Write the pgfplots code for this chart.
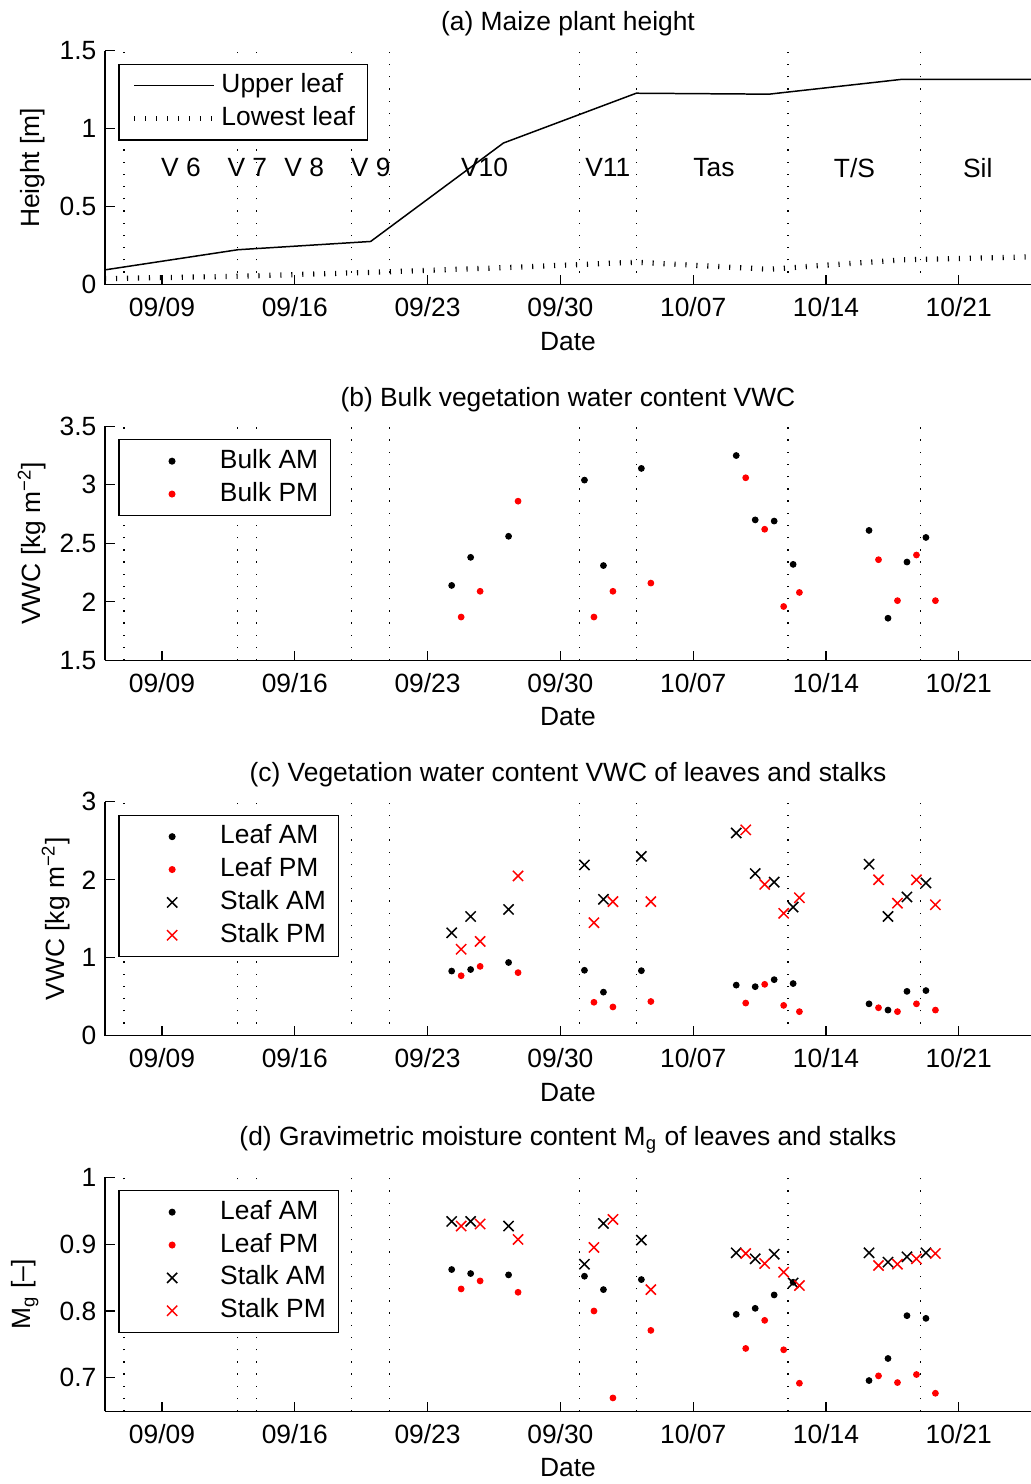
\documentclass[border=0pt]{standalone}
\usepackage{fontspec}
\setmainfont{Liberation Sans}
\usepackage{pgfplots}
\usepackage{pgfplotstable}
\pgfplotsset{compat=1.18}

% day of year counted from 1 Sep (09/09 = 9, 10/21 = 51)
\pgfplotstableread{
day   upper  lower
6     0.096  0.040
13    0.225  0.055
20    0.278  0.080
27    0.909  0.110
34    1.228  0.145
41    1.222  0.100
48    1.317  0.160
55    1.317  0.180
}\heighttab

\pgfplotstableread{
dam    dpm    am    pm
24.27  24.77  2.14  1.87
25.27  25.77  2.38  2.09
27.27  27.77  2.56  2.86
31.27  31.77  3.04  1.87
32.27  32.77  2.31  2.09
34.27  34.77  3.14  2.16
39.27  39.77  3.25  3.06
40.27  40.77  2.70  2.62
41.27  41.77  2.69  1.96
42.27  42.60  2.32  2.08
46.27  46.77  2.61  2.36
47.27  47.77  1.86  2.01
48.27  48.77  2.34  2.40
49.27  49.77  2.55  2.01
}\bulktab

\pgfplotstableread{
dam    dpm    leafam leafpm stalkam stalkpm
24.27  24.77  0.83   0.77   1.32    1.11
25.27  25.77  0.85   0.89   1.53    1.21
27.27  27.77  0.94   0.81   1.62    2.05
31.27  31.77  0.84   0.43   2.19    1.45
32.27  32.77  0.56   0.37   1.75    1.72
34.27  34.77  0.835  0.44   2.30    1.72
39.27  39.77  0.65   0.42   2.60    2.64
40.27  40.77  0.63   0.66   2.08    1.94
41.27  41.77  0.72   0.39   1.97    1.57
42.27  42.60  0.67   0.31   1.65    1.77
46.27  46.77  0.41   0.36   2.20    2.00
47.27  47.77  0.33   0.31   1.53    1.70
48.27  48.77  0.57   0.41   1.78    2.00
49.27  49.77  0.58   0.33   1.96    1.68
}\vwctab

\pgfplotstableread{
dam    dpm    leafam leafpm stalkam stalkpm
24.27  24.77  0.862  0.833  0.934   0.927
25.27  25.77  0.856  0.845  0.934   0.930
27.27  27.77  0.854  0.828  0.927   0.907
31.27  31.77  0.852  0.800  0.870   0.895
32.27  32.77  0.832  0.670  0.931   0.937
34.27  34.77  0.847  0.771  0.906   0.832
39.27  39.77  0.795  0.744  0.887   0.886
40.27  40.77  0.804  0.786  0.878   0.871
41.27  41.77  0.824  0.742  0.885   0.858
42.27  42.60  0.843  0.692  0.842   0.838
46.27  46.77  0.696  0.703  0.887   0.868
47.27  47.77  0.729  0.693  0.873   0.870
48.27  48.77  0.793  0.705  0.881   0.878
49.27  49.77  0.789  0.677  0.887   0.886
}\mgtab

\pgfplotsset{
  panel/.style={
    scale only axis, width=371.8pt, height=94pt,
    xmin=6, xmax=54.8,
    axis x line*=bottom, axis y line*=left,
    axis line style={line width=0.5pt},
    tick align=inside, major tick length=3.8pt,
    tick style={black, line width=0.5pt},
    xtick={9,16,23,30,37,44,51},
    xticklabels={09/09,09/16,09/23,09/30,10/07,10/14,10/21},
    xticklabel style={yshift=-1.6pt},
    extra x ticks={7,13,14,19,21,31,34,42,49},
    extra x tick labels={},
    extra x tick style={grid=major, major tick length=0pt,
      major grid style={black, line width=0.5pt, dash pattern=on 0.5pt off 4.4pt}},
    xlabel={Date},
    xlabel style={yshift=0.8pt},
    title style={yshift=-3.6pt},
    /pgf/number format/assume math mode=true,
    legend cell align=left,
    legend style={draw=black, line width=0.5pt, fill=white,
      at={(0.0145,0.945)}, anchor=north west,
      nodes={text height=7.8pt, text depth=2.2pt, inner ysep=1.6pt}},
  },
  dots/.style={only marks, mark=*, mark size=1.15pt},
  crosses/.style={only marks, mark=x, mark size=2.9pt, line width=0.6pt},
  markleg/.style={legend image code/.code={%
    \path (0pt,0pt) (35pt,0pt);
    \draw[mark repeat=2,mark phase=2,##1] plot coordinates {(0pt,0pt)(18pt,0pt)(35pt,0pt)};}},
}

\begin{document}
\begin{tikzpicture}[font=\fontsize{10.6}{12.7}\selectfont]

% (a)
\begin{axis}[panel, at={(0,0)}, anchor=north west,
  title={(a) Maize plant height},
  ymin=0, ymax=1.5, ytick={0,0.5,1,1.5},
  ylabel={Height [m]}, ylabel shift=-1.2pt,
  legend image code/.code={\path (-2pt,0pt) (32pt,0pt); \draw[#1] (0pt,0pt) -- (32pt,0pt);}]
\addplot[black, line width=0.6pt] table[x=day, y=upper] {\heighttab};
\addlegendentry{Upper leaf}
\addplot[black, line width=2.1pt, dash pattern=on 0.45pt off 3.95pt] table[x=day, y=lower] {\heighttab};
\addlegendentry{Lowest leaf}
\node at (axis cs:10,0.75) {V 6};
\node at (axis cs:13.5,0.75) {V 7};
\node at (axis cs:16.5,0.75) {V 8};
\node at (axis cs:20,0.75) {V 9};
\node at (axis cs:26,0.75) {V10};
\node at (axis cs:32.5,0.75) {V11};
\node at (axis cs:38.1,0.75) {Tas};
\node at (axis cs:45.5,0.75) {T/S};
\node at (axis cs:52,0.75) {Sil};
\end{axis}

% (b)
\begin{axis}[panel, markleg, at={(0,-150.8pt)}, anchor=north west,
  title={(b) Bulk vegetation water content VWC},
  ymin=1.5, ymax=3.5, ytick={1.5,2,2.5,3,3.5},
  ylabel={VWC [kg m\textsuperscript{−2}]}, ylabel shift=-1.4pt]
\addplot[dots, black] table[x=dam, y=am] {\bulktab};
\addlegendentry{Bulk AM}
\addplot[dots, red] table[x=dpm, y=pm] {\bulktab};
\addlegendentry{Bulk PM}
\end{axis}

% (c)
\begin{axis}[panel, markleg, at={(0,-301.6pt)}, anchor=north west,
  title={(c) Vegetation water content VWC of leaves and stalks},
  ymin=0, ymax=3, ytick={0,1,2,3},
  ylabel={VWC [kg m\textsuperscript{−2}]}, ylabel shift=-2.2pt]
\addplot[dots, black] table[x=dam, y=leafam] {\vwctab};
\addlegendentry{Leaf AM}
\addplot[dots, red] table[x=dpm, y=leafpm] {\vwctab};
\addlegendentry{Leaf PM}
\addplot[crosses, black] table[x=dam, y=stalkam] {\vwctab};
\addlegendentry{Stalk AM}
\addplot[crosses, red] table[x=dpm, y=stalkpm] {\vwctab};
\addlegendentry{Stalk PM}
\end{axis}

% (d)
\begin{axis}[panel, markleg, at={(0,-452.4pt)}, anchor=north west,
  title={(d) Gravimetric moisture content M\textsubscript{g} of leaves and stalks},
  title style={yshift=3.6pt},
  ymin=0.65, ymax=1, ytick={0.7,0.8,0.9,1},
  ylabel={M\textsubscript{g} [–]}, ylabel shift=1.6pt]
\addplot[dots, black] table[x=dam, y=leafam] {\mgtab};
\addlegendentry{Leaf AM}
\addplot[dots, red] table[x=dpm, y=leafpm] {\mgtab};
\addlegendentry{Leaf PM}
\addplot[crosses, black] table[x=dam, y=stalkam] {\mgtab};
\addlegendentry{Stalk AM}
\addplot[crosses, red] table[x=dpm, y=stalkpm] {\mgtab};
\addlegendentry{Stalk PM}
\end{axis}

\pgfresetboundingbox
\path[use as bounding box] (-42.2pt,20.4pt) rectangle (371.8pt,-575.6pt);
\end{tikzpicture}
\end{document}
